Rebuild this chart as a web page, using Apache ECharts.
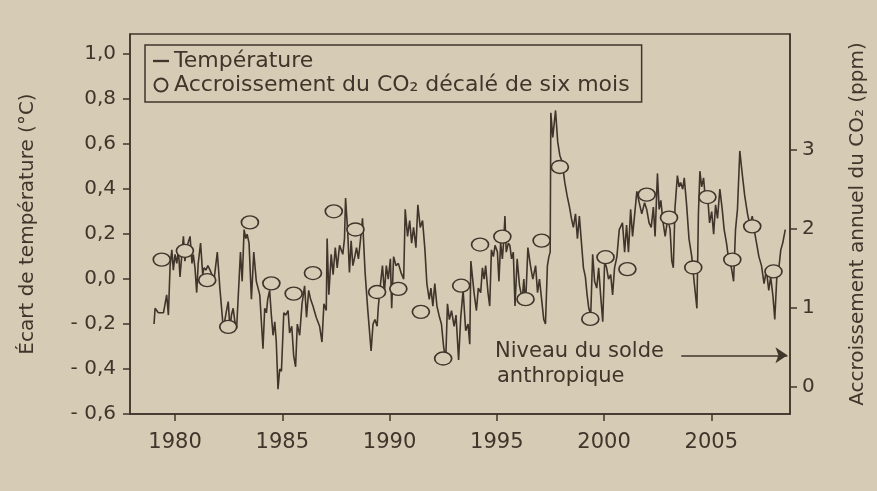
<!DOCTYPE html>
<html>
<head>
<meta charset="utf-8">
<title>Température et accroissement du CO2</title>
<script src="https://cdn.jsdelivr.net/npm/echarts@6/dist/echarts.min.js"></script>
<style>
  html, body { margin: 0; padding: 0; background: #d6ccb5; }
  #chart { width: 877px; height: 491px; }
</style>
</head>
<body>
<div id="chart"></div>
<script>
// temperature anomaly (°C): [year, value]
var temperature = [
  [1979.02,-0.20],[1979.07,-0.13],[1979.22,-0.15],[1979.46,-0.15],[1979.61,-0.07],[1979.69,-0.16],
  [1979.77,0.06],[1979.85,0.13],[1979.92,0.04],[1980.00,0.11],[1980.08,0.07],[1980.16,0.13],
  [1980.23,0.01],[1980.31,0.10],[1980.39,0.19],[1980.46,0.08],[1980.54,0.14],[1980.70,0.19],
  [1980.79,0.07],[1980.85,0.11],[1980.93,0.05],[1981.01,-0.06],[1981.08,0.07],[1981.19,0.16],
  [1981.29,0.02],[1981.35,0.05],[1981.44,0.04],[1981.53,0.06],[1981.63,0.04],[1981.72,0.02],
  [1981.81,-0.01],[1981.97,0.12],[1982.09,-0.04],[1982.25,-0.22],[1982.40,-0.14],[1982.48,-0.10],
  [1982.56,-0.22],[1982.63,-0.16],[1982.71,-0.13],[1982.79,-0.19],[1982.87,-0.22],[1982.94,-0.09],
  [1983.05,0.12],[1983.13,-0.01],[1983.22,0.22],[1983.30,0.18],[1983.36,0.20],[1983.45,0.16],
  [1983.56,-0.09],[1983.67,0.12],[1983.79,-0.01],[1983.95,-0.07],[1984.10,-0.31],[1984.18,-0.13],
  [1984.26,-0.15],[1984.32,-0.09],[1984.41,-0.05],[1984.49,-0.16],[1984.57,-0.25],[1984.65,-0.19],
  [1984.72,-0.28],[1984.80,-0.49],[1984.88,-0.40],[1984.96,-0.41],[1985.07,-0.15],[1985.16,-0.16],
  [1985.27,-0.14],[1985.34,-0.24],[1985.44,-0.21],[1985.53,-0.34],[1985.62,-0.39],[1985.70,-0.20],
  [1985.81,-0.25],[1985.92,-0.11],[1986.04,-0.03],[1986.13,-0.17],[1986.23,-0.05],[1986.32,-0.09],
  [1986.43,-0.12],[1986.58,-0.17],[1986.74,-0.21],[1986.85,-0.28],[1986.94,-0.11],[1987.05,-0.14],
  [1987.09,0.18],[1987.17,-0.07],[1987.28,0.11],[1987.37,0.02],[1987.47,0.14],[1987.56,0.05],
  [1987.67,0.15],[1987.74,0.15],[1987.82,0.11],[1987.90,0.18],[1987.95,0.36],[1988.05,0.21],
  [1988.13,0.03],[1988.21,0.17],[1988.29,0.06],[1988.36,0.09],[1988.46,0.14],[1988.55,0.09],
  [1988.64,0.17],[1988.74,0.27],[1988.86,0.03],[1988.98,-0.13],[1989.14,-0.32],[1989.23,-0.20],
  [1989.32,-0.18],[1989.42,-0.21],[1989.48,-0.12],[1989.57,-0.03],[1989.67,0.06],[1989.76,-0.06],
  [1989.85,0.06],[1989.94,0.00],[1990.04,0.09],[1990.10,-0.13],[1990.19,0.10],[1990.30,0.06],
  [1990.41,0.07],[1990.53,0.03],[1990.66,0.00],[1990.73,0.31],[1990.84,0.19],[1990.94,0.26],
  [1991.03,0.16],[1991.12,0.23],[1991.23,0.14],[1991.32,0.33],[1991.43,0.23],[1991.54,0.26],
  [1991.65,0.13],[1991.74,-0.02],[1991.85,-0.09],[1991.93,-0.04],[1992.02,-0.12],[1992.11,-0.02],
  [1992.21,-0.12],[1992.33,-0.17],[1992.42,-0.20],[1992.52,-0.30],[1992.62,-0.36],[1992.70,-0.11],
  [1992.79,-0.18],[1992.89,-0.14],[1993.01,-0.21],[1993.10,-0.16],[1993.22,-0.36],[1993.32,-0.17],
  [1993.43,-0.05],[1993.55,-0.23],[1993.66,-0.20],[1993.74,-0.29],[1993.79,0.08],[1993.94,-0.06],
  [1994.05,-0.14],[1994.14,-0.04],[1994.25,-0.06],[1994.33,0.05],[1994.41,0.00],[1994.48,0.06],
  [1994.59,-0.06],[1994.67,-0.12],[1994.75,0.13],[1994.84,0.10],[1994.92,0.15],[1995.03,0.12],
  [1995.10,-0.01],[1995.18,0.16],[1995.26,0.09],[1995.33,0.18],[1995.38,0.28],[1995.44,0.12],
  [1995.54,0.16],[1995.61,0.15],[1995.69,0.09],[1995.77,0.12],[1995.85,-0.12],[1995.95,0.09],
  [1996.06,-0.03],[1996.19,-0.09],[1996.26,0.00],[1996.34,-0.12],[1996.45,0.14],[1996.57,0.06],
  [1996.68,0.00],[1996.81,0.06],[1996.90,-0.06],[1996.99,0.00],[1997.09,-0.09],[1997.19,-0.18],
  [1997.27,-0.20],[1997.36,0.06],[1997.43,0.10],[1997.49,0.12],[1997.52,0.74],[1997.61,0.63],
  [1997.74,0.75],[1997.84,0.61],[1997.94,0.55],[1998.05,0.52],[1998.17,0.43],[1998.28,0.37],
  [1998.39,0.32],[1998.48,0.27],[1998.57,0.23],[1998.67,0.29],[1998.76,0.18],[1998.85,0.28],
  [1998.94,0.17],[1999.04,0.05],[1999.13,0.01],[1999.21,-0.07],[1999.29,-0.13],[1999.38,-0.16],
  [1999.47,0.11],[1999.56,-0.01],[1999.66,-0.04],[1999.75,0.05],[1999.84,-0.07],[1999.94,-0.19],
  [2000.03,0.08],[2000.12,0.05],[2000.21,0.00],[2000.31,0.02],[2000.40,-0.07],[2000.49,0.05],
  [2000.60,0.10],[2000.71,0.22],[2000.86,0.25],[2000.96,0.12],[2001.05,0.24],[2001.14,0.12],
  [2001.24,0.31],[2001.33,0.19],[2001.42,0.28],[2001.53,0.39],[2001.64,0.34],[2001.76,0.29],
  [2001.89,0.34],[2001.99,0.31],[2002.10,0.25],[2002.20,0.23],[2002.30,0.32],[2002.38,0.19],
  [2002.49,0.47],[2002.57,0.31],[2002.65,0.35],[2002.74,0.26],[2002.85,0.19],[2002.97,0.27],
  [2003.08,0.22],[2003.16,0.08],[2003.23,0.05],[2003.31,0.32],[2003.42,0.46],[2003.50,0.41],
  [2003.57,0.43],[2003.67,0.40],[2003.74,0.45],[2003.85,0.33],[2003.96,0.18],[2004.09,0.10],
  [2004.21,-0.02],[2004.33,-0.13],[2004.40,0.29],[2004.47,0.48],[2004.55,0.41],[2004.64,0.45],
  [2004.74,0.34],[2004.83,0.37],[2004.92,0.25],[2005.02,0.30],[2005.11,0.20],[2005.20,0.33],
  [2005.29,0.27],[2005.40,0.40],[2005.51,0.31],[2005.60,0.22],[2005.71,0.16],[2005.82,0.08],
  [2005.94,0.05],[2006.04,-0.01],[2006.13,0.22],[2006.22,0.31],[2006.33,0.57],[2006.44,0.47],
  [2006.56,0.37],[2006.69,0.29],[2006.80,0.24],[2006.91,0.28],[2007.00,0.22],[2007.11,0.16],
  [2007.22,0.10],[2007.34,0.06],[2007.46,-0.02],[2007.57,0.04],[2007.68,-0.05],[2007.77,0.01],
  [2007.88,-0.08],[2007.96,-0.18],[2008.05,0.00],[2008.14,0.04],[2008.24,0.13],[2008.33,0.16],
  [2008.45,0.22]
];

// annual CO2 growth (ppm), shifted six months: [year, value]
var co2Growth = [
  [1979.38,1.61],[1980.46,1.72],[1981.50,1.35],[1982.48,0.76],[1983.49,2.08],[1984.49,1.31],
  [1985.53,1.18],[1986.43,1.44],[1987.40,2.22],[1988.41,1.99],[1989.42,1.20],[1990.41,1.24],
  [1991.46,0.95],[1992.50,0.36],[1993.34,1.28],[1994.22,1.80],[1995.26,1.90],[1996.34,1.11],
  [1997.09,1.85],[1997.94,2.78],[1999.36,0.86],[2000.07,1.64],[2001.09,1.49],[2001.99,2.43],
  [2003.03,2.14],[2004.16,1.51],[2004.82,2.40],[2005.98,1.61],[2006.91,2.03],[2007.90,1.46]
];

var yearTicks = [1980, 1985, 1990, 1995, 2000, 2005];
var tempTicks = [-0.6, -0.4, -0.2, 0, 0.2, 0.4, 0.6, 0.8, 1.0];
var co2Ticks = [0, 1, 2, 3];
// level of the anthropogenic balance (arrow), ppm
var soldeLevel = 0.4;
var soldeFrom = 2003.6;
var soldeTo = 2008.55;

var ink = '#3f352b';
var paper = '#d6ccb5';
var font = 'DejaVu Sans';

var myChart = echarts.init(document.getElementById('chart'));

// "0,2" / "- 0,4" style labels
function frLabel(v) {
  var s = Math.abs(v).toFixed(1).replace('.', ',');
  return v < -1e-9 ? '- ' + s : s;
}

option = {
  backgroundColor: paper,
  animation: false,
  textStyle: { fontFamily: font, color: ink },
  grid: {
    left: 130,
    right: 87,
    top: 34,
    bottom: 77,
    show: true,
    borderColor: ink,
    borderWidth: 1.5,
    backgroundColor: 'transparent'
  },
  legend: {
    orient: 'vertical',
    left: 145,
    top: 45,
    padding: [5, 12, 6, 8],
    itemGap: 2,
    itemWidth: 16,
    itemHeight: 13,
    borderColor: ink,
    borderWidth: 1.5,
    textStyle: { fontFamily: font, fontSize: 22, color: ink },
    data: [
      { name: 'Température', icon: 'path://M0,0H18V2.6H0Z' },
      { name: 'Accroissement du CO₂ décalé de six mois', icon: 'circle' }
    ]
  },
  xAxis: {
    type: 'value',
    min: 1977.9,
    max: 2008.67,
    axisLine: { show: true, onZero: false, lineStyle: { color: ink, width: 1.5 } },
    axisTick: { show: true, length: 7, customValues: yearTicks, lineStyle: { color: ink, width: 1.5 } },
    axisLabel: {
      customValues: yearTicks, margin: 18, fontSize: 21, fontFamily: font, color: ink,
      formatter: function (v) { return String(Math.round(v)); }
    },
    splitLine: { show: false }
  },
  yAxis: [
    {
      type: 'value',
      min: -0.6,
      max: 1.09,
      name: 'Écart de température (°C)',
      nameLocation: 'middle',
      nameRotate: 90,
      nameGap: 92,
      nameTextStyle: { fontSize: 20, fontFamily: font, color: ink },
      axisLine: { show: true, onZero: false, lineStyle: { color: ink, width: 1.5 } },
      axisTick: { show: true, length: 7, customValues: tempTicks, lineStyle: { color: ink, width: 1.5 } },
      axisLabel: { customValues: tempTicks, margin: 14, fontSize: 20, fontFamily: font, color: ink, formatter: frLabel },
      splitLine: { show: false }
    },
    {
      type: 'value',
      position: 'right',
      min: -0.341,
      max: 4.46,
      name: 'Accroissement annuel du CO₂ (ppm)',
      nameLocation: 'middle',
      nameRotate: 90,
      nameGap: 58,
      nameTextStyle: { fontSize: 20, fontFamily: font, color: ink },
      axisLine: { show: true, onZero: false, lineStyle: { color: ink, width: 1.5 } },
      axisTick: { show: true, length: 7, customValues: co2Ticks, lineStyle: { color: ink, width: 1.5 } },
      axisLabel: { customValues: co2Ticks, margin: 12, fontSize: 20, fontFamily: font, color: ink },
      splitLine: { show: false }
    }
  ],
  graphic: [
    { type: 'text', left: 495, top: 341, style: { text: 'Niveau du solde', font: '21px "DejaVu Sans"', fill: ink } },
    { type: 'text', left: 497, top: 366, style: { text: 'anthropique', font: '21px "DejaVu Sans"', fill: ink } }
  ],
  series: [
    {
      name: 'Température',
      type: 'line',
      yAxisIndex: 0,
      symbol: 'none',
      lineStyle: { color: ink, width: 1.6 },
      itemStyle: { color: ink },
      data: temperature,
      z: 2
    },
    {
      name: 'Accroissement du CO₂ décalé de six mois',
      type: 'scatter',
      yAxisIndex: 1,
      symbol: 'circle',
      symbolSize: [17, 13],
      itemStyle: { color: paper, borderColor: ink, borderWidth: 1.5, opacity: 1 },
      data: co2Growth,
      z: 3,
      markLine: {
        silent: true,
        symbol: ['none', 'arrow'],
        symbolSize: 12,
        label: { show: false },
        itemStyle: { color: ink },
        lineStyle: { color: ink, width: 1.5, type: 'solid' },
        data: [[{ coord: [soldeFrom, soldeLevel] }, { coord: [soldeTo, soldeLevel] }]]
      }
    }
  ]
};

myChart.setOption(option);
</script>
</body>
</html>
